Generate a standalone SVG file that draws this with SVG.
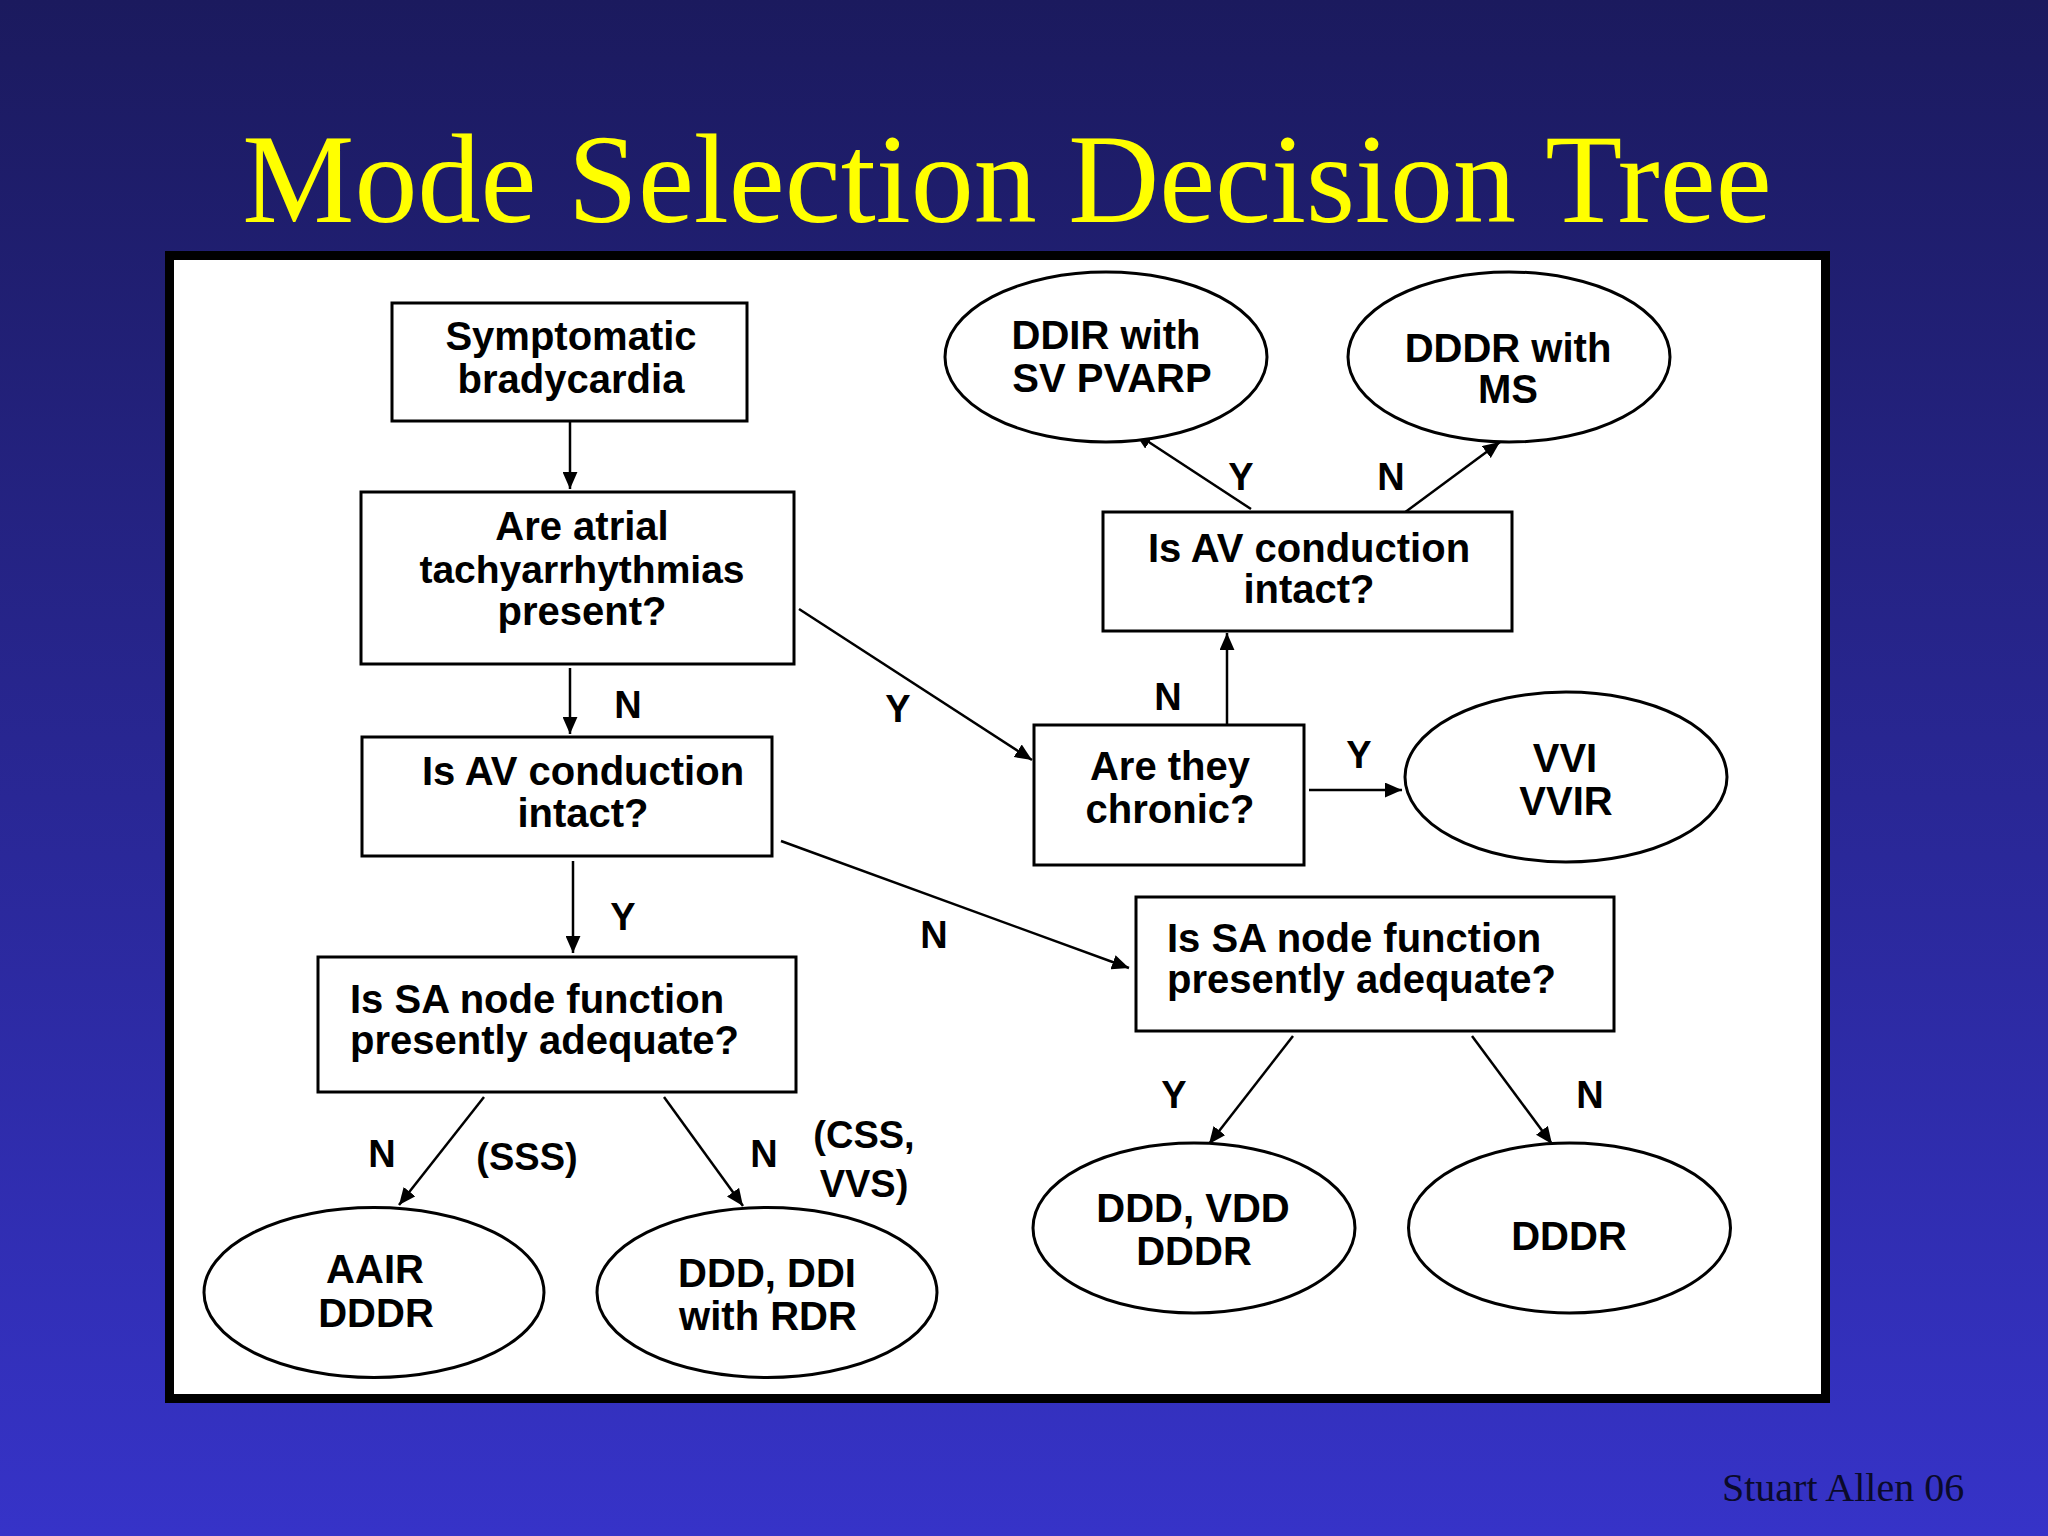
<svg xmlns="http://www.w3.org/2000/svg" width="2048" height="1536" viewBox="0 0 2048 1536">
<defs>
<linearGradient id="bg" x1="0" y1="0" x2="0" y2="1">
<stop offset="0" stop-color="#1b1a5e"/>
<stop offset="1" stop-color="#3633c8"/>
</linearGradient>
<marker id="arr" viewBox="0 0 16 14" refX="16" refY="7" markerWidth="17" markerHeight="15" markerUnits="userSpaceOnUse" orient="auto">
<path d="M0,0 L16,7 L0,14 z" fill="#000"/>
</marker>
<style>
.box{fill:#fff;stroke:#000;stroke-width:3}
.ell{fill:#fff;stroke:#000;stroke-width:3}
.t{font-family:"Liberation Sans",Arial,sans-serif;font-weight:bold;font-size:40px;fill:#000;text-anchor:middle}
.tl{font-family:"Liberation Sans",Arial,sans-serif;font-weight:bold;font-size:40px;fill:#000;text-anchor:start}
.lab{font-family:"Liberation Sans",Arial,sans-serif;font-weight:bold;font-size:38px;fill:#000;text-anchor:middle}
.con line{stroke:#000;stroke-width:2.5;marker-end:url(#arr)}
</style>
</defs>
<rect x="0" y="0" width="2048" height="1536" fill="url(#bg)"/>
<text x="1007" y="222" font-family="Liberation Serif,'Times New Roman',serif" font-size="126" fill="#ffff00" text-anchor="middle">Mode Selection Decision Tree</text>
<rect x="169.5" y="255.5" width="1656" height="1143" fill="#fff" stroke="#000" stroke-width="9"/>

<g id="connectors" class="con">
<line x1="570" y1="422" x2="570" y2="489"/>
<line x1="570" y1="668" x2="570" y2="734"/>
<line x1="799" y1="609" x2="1032" y2="760"/>
<line x1="1227" y1="725" x2="1227" y2="633"/>
<line x1="1309" y1="790" x2="1402" y2="790"/>
<line x1="1251" y1="509" x2="1135" y2="433"/>
<line x1="1400" y1="516" x2="1500" y2="442"/>
<line x1="573" y1="861" x2="573" y2="953"/>
<line x1="781" y1="841" x2="1129" y2="968"/>
<line x1="484" y1="1097" x2="399" y2="1205"/>
<line x1="664" y1="1097" x2="743" y2="1206"/>
<line x1="1293" y1="1036" x2="1209" y2="1144"/>
<line x1="1472" y1="1036" x2="1552" y2="1144"/>
</g>

<g id="labels">
<text class="lab" x="628" y="718">N</text>
<text class="lab" x="898" y="722">Y</text>
<text class="lab" x="1168" y="710">N</text>
<text class="lab" x="1359" y="768">Y</text>
<text class="lab" x="1241" y="490">Y</text>
<text class="lab" x="1391" y="490">N</text>
<text class="lab" x="623" y="930">Y</text>
<text class="lab" x="934" y="948">N</text>
<text class="lab" x="382" y="1167">N</text>
<text class="lab" x="527" y="1170">(SSS)</text>
<text class="lab" x="764" y="1167">N</text>
<text class="lab" x="864" y="1148">(CSS,</text>
<text class="lab" x="864" y="1197">VVS)</text>
<text class="lab" x="1174" y="1108">Y</text>
<text class="lab" x="1590" y="1108">N</text>
</g>

<g id="n1">
<rect class="box" x="392" y="303" width="355" height="118"/>
<text class="t" x="571" y="350">Symptomatic</text>
<text class="t" x="571" y="393">bradycardia</text>
</g>
<g id="n2">
<rect class="box" x="361" y="492" width="433" height="172"/>
<text class="t" x="582" y="540">Are atrial</text>
<text class="t" x="582" y="583" style="font-size:39px">tachyarrhythmias</text>
<text class="t" x="582" y="625">present?</text>
</g>
<g id="n3">
<rect class="box" x="362" y="737" width="410" height="119"/>
<text class="t" x="583" y="785">Is AV conduction</text>
<text class="t" x="583" y="827">intact?</text>
</g>
<g id="n4">
<rect class="box" x="318" y="957" width="478" height="135"/>
<text class="tl" x="350" y="1013">Is SA node function</text>
<text class="tl" x="350" y="1054">presently adequate?</text>
</g>
<g id="n5">
<rect class="box" x="1034" y="725" width="270" height="140"/>
<text class="t" x="1170" y="780">Are they</text>
<text class="t" x="1170" y="823">chronic?</text>
</g>
<g id="n6">
<rect class="box" x="1103" y="512" width="409" height="119"/>
<text class="t" x="1309" y="562">Is AV conduction</text>
<text class="t" x="1309" y="603">intact?</text>
</g>
<g id="n7">
<ellipse class="ell" cx="1106" cy="357" rx="161" ry="85"/>
<text class="t" x="1106" y="349">DDIR with</text>
<text class="t" x="1112" y="392">SV PVARP</text>
</g>
<g id="n8">
<ellipse class="ell" cx="1509" cy="357" rx="161" ry="85"/>
<text class="t" x="1508" y="362">DDDR with</text>
<text class="t" x="1508" y="403">MS</text>
</g>
<g id="n9">
<ellipse class="ell" cx="1566" cy="777" rx="161" ry="85"/>
<text class="t" x="1565" y="772">VVI</text>
<text class="t" x="1566" y="815">VVIR</text>
</g>
<g id="n10">
<rect class="box" x="1136" y="897" width="478" height="134"/>
<text class="tl" x="1167" y="952">Is SA node function</text>
<text class="tl" x="1167" y="993">presently adequate?</text>
</g>
<g id="n11">
<ellipse class="ell" cx="1194" cy="1228" rx="161" ry="85"/>
<text class="t" x="1193" y="1222">DDD, VDD</text>
<text class="t" x="1194" y="1265">DDDR</text>
</g>
<g id="n12">
<ellipse class="ell" cx="1569.5" cy="1228" rx="161" ry="85"/>
<text class="t" x="1569" y="1250">DDDR</text>
</g>
<g id="n13">
<ellipse class="ell" cx="374" cy="1292.5" rx="170" ry="85"/>
<text class="t" x="375" y="1283">AAIR</text>
<text class="t" x="376" y="1327">DDDR</text>
</g>
<g id="n14">
<ellipse class="ell" cx="767" cy="1292.5" rx="170" ry="85"/>
<text class="t" x="767" y="1287">DDD, DDI</text>
<text class="t" x="768" y="1330">with RDR</text>
</g>

<text x="1722" y="1501" font-family="Liberation Serif,'Times New Roman',serif" font-size="40" fill="#0a0a2a">Stuart Allen 06</text>
</svg>
